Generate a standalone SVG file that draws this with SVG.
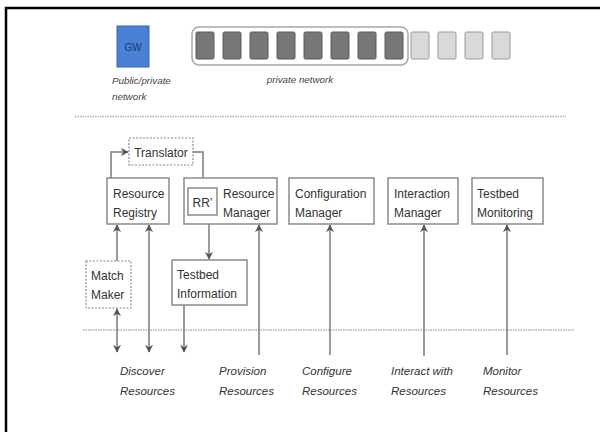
<svg xmlns="http://www.w3.org/2000/svg" width="600" height="432" viewBox="0 0 600 432">
<defs>
<style>
.box{fill:#fff;stroke:#8a8a8a;stroke-width:1.5}
.dash{fill:#fff;stroke:#8a8a8a;stroke-width:1.2;stroke-dasharray:2 1.5}
.t{font-family:"Liberation Sans",Arial,sans-serif;font-size:12px;fill:#333}
.it{font-family:"Liberation Sans",Arial,sans-serif;font-size:11.5px;font-style:italic;fill:#333}
.sm{font-family:"Liberation Sans",Arial,sans-serif;font-size:9.8px;font-style:italic;fill:#444}
.c{fill:none;stroke:#7a7a7a;stroke-width:1.5}
.sep{stroke:#b0b0b0;stroke-width:1.5;stroke-dasharray:1.5 1}
.dk{fill:#777;stroke:#5a5a5a;stroke-width:1}
.lt{fill:#d9d9d9;stroke:#999;stroke-width:1}
</style>
<marker id="ah" viewBox="0 0 10 10" refX="9" refY="5" markerWidth="8" markerHeight="8" markerUnits="userSpaceOnUse" orient="auto-start-reverse">
<path d="M0,0 L10,5 L0,10 L3,5 z" fill="#555"/>
</marker>
</defs>
<rect x="0" y="0" width="600" height="432" fill="#fff"/>
<path d="M6,432 L6,8 L600,8" fill="none" stroke="#000" stroke-width="2.5"/>

<g id="gw">
<rect x="117" y="26" width="32" height="41" fill="#4a80d6" stroke="#3a64a8" stroke-width="1"/>
<text x="133" y="51" font-family="Liberation Sans,Arial,sans-serif" font-size="10" fill="#1d3a70" text-anchor="middle">GW</text>
<text class="sm" x="112" y="84">Public/private</text>
<text class="sm" x="112" y="100">network</text>
</g>

<g id="private-network">
<rect x="192" y="27" width="216" height="38" rx="7" fill="#fff" stroke="#a8a8a8" stroke-width="1.5"/>
<rect class="dk" x="196" y="32" width="18" height="27" rx="1.5"/>
<rect class="dk" x="223" y="32" width="18" height="27" rx="1.5"/>
<rect class="dk" x="250" y="32" width="18" height="27" rx="1.5"/>
<rect class="dk" x="277" y="32" width="18" height="27" rx="1.5"/>
<rect class="dk" x="304" y="32" width="18" height="27" rx="1.5"/>
<rect class="dk" x="331" y="32" width="18" height="27" rx="1.5"/>
<rect class="dk" x="358" y="32" width="18" height="27" rx="1.5"/>
<rect class="dk" x="385" y="32" width="18" height="27" rx="1.5"/>
<rect class="lt" x="411" y="32" width="18" height="27" rx="1.5"/>
<rect class="lt" x="438" y="32" width="18" height="27" rx="1.5"/>
<rect class="lt" x="465" y="32" width="18" height="27" rx="1.5"/>
<rect class="lt" x="492" y="32" width="18" height="27" rx="1.5"/>
<text class="sm" x="300" y="83" text-anchor="middle">private network</text>
</g>

<line class="sep" x1="75" y1="116.5" x2="566" y2="116.5"/>
<line class="sep" x1="83" y1="330" x2="574" y2="330"/>

<g id="connectors">
<polyline class="c" points="111,178 111,152 128,152" marker-end="url(#ah)"/>
<polyline class="c" points="193,152 203,152 203,187" marker-end="url(#ah)"/>
<line class="c" x1="117" y1="261" x2="117" y2="225" marker-end="url(#ah)"/>
<line class="c" x1="117" y1="309" x2="117" y2="352" marker-start="url(#ah)" marker-end="url(#ah)"/>
<line class="c" x1="149" y1="225" x2="149" y2="352" marker-start="url(#ah)" marker-end="url(#ah)"/>
<line class="c" x1="209" y1="224" x2="209" y2="259" marker-end="url(#ah)"/>
<line class="c" x1="184" y1="305" x2="184" y2="352" marker-end="url(#ah)"/>
<line class="c" x1="259" y1="355" x2="259" y2="225" marker-end="url(#ah)"/>
<line class="c" x1="330" y1="355" x2="330" y2="225" marker-end="url(#ah)"/>
<line class="c" x1="424" y1="356" x2="424" y2="225" marker-end="url(#ah)"/>
<line class="c" x1="507" y1="355" x2="507" y2="225" marker-end="url(#ah)"/>
</g>

<g id="translator">
<rect class="dash" x="129" y="138" width="64" height="27"/>
<text class="t" x="161" y="157" text-anchor="middle">Translator</text>
</g>

<g id="resource-registry">
<rect class="box" x="107" y="178" width="62" height="46"/>
<text class="t" x="113" y="198">Resource</text>
<text class="t" x="113" y="217">Registry</text>
</g>

<g id="resource-manager">
<rect class="box" x="184" y="178" width="93" height="46"/>
<rect class="box" x="188" y="188" width="29" height="27"/>
<text class="t" x="202.5" y="207" text-anchor="middle">RR’</text>
<text class="t" x="223" y="198">Resource</text>
<text class="t" x="223" y="217">Manager</text>
</g>

<g id="configuration-manager">
<rect class="box" x="289" y="178" width="85" height="46"/>
<text class="t" x="295" y="198">Configuration</text>
<text class="t" x="295" y="217">Manager</text>
</g>

<g id="interaction-manager">
<rect class="box" x="388" y="178" width="70" height="46"/>
<text class="t" x="394" y="198">Interaction</text>
<text class="t" x="394" y="217">Manager</text>
</g>

<g id="testbed-monitoring">
<rect class="box" x="472" y="178" width="71" height="46"/>
<text class="t" x="477" y="198">Testbed</text>
<text class="t" x="477" y="217">Monitoring</text>
</g>

<g id="match-maker">
<rect class="dash" x="86" y="261" width="45" height="47"/>
<text class="t" x="91" y="280">Match</text>
<text class="t" x="91" y="299">Maker</text>
</g>

<g id="testbed-information">
<rect class="box" x="172" y="260" width="75" height="45"/>
<text class="t" x="177" y="279">Testbed</text>
<text class="t" x="177" y="298">Information</text>
</g>

<g id="labels">
<text class="it" x="120" y="375">Discover</text>
<text class="it" x="120" y="395">Resources</text>
<text class="it" x="219" y="375">Provision</text>
<text class="it" x="219" y="395">Resources</text>
<text class="it" x="302" y="375">Configure</text>
<text class="it" x="302" y="395">Resources</text>
<text class="it" x="391" y="375">Interact with</text>
<text class="it" x="391" y="395">Resources</text>
<text class="it" x="483" y="375">Monitor</text>
<text class="it" x="483" y="395">Resources</text>
</g>
</svg>
